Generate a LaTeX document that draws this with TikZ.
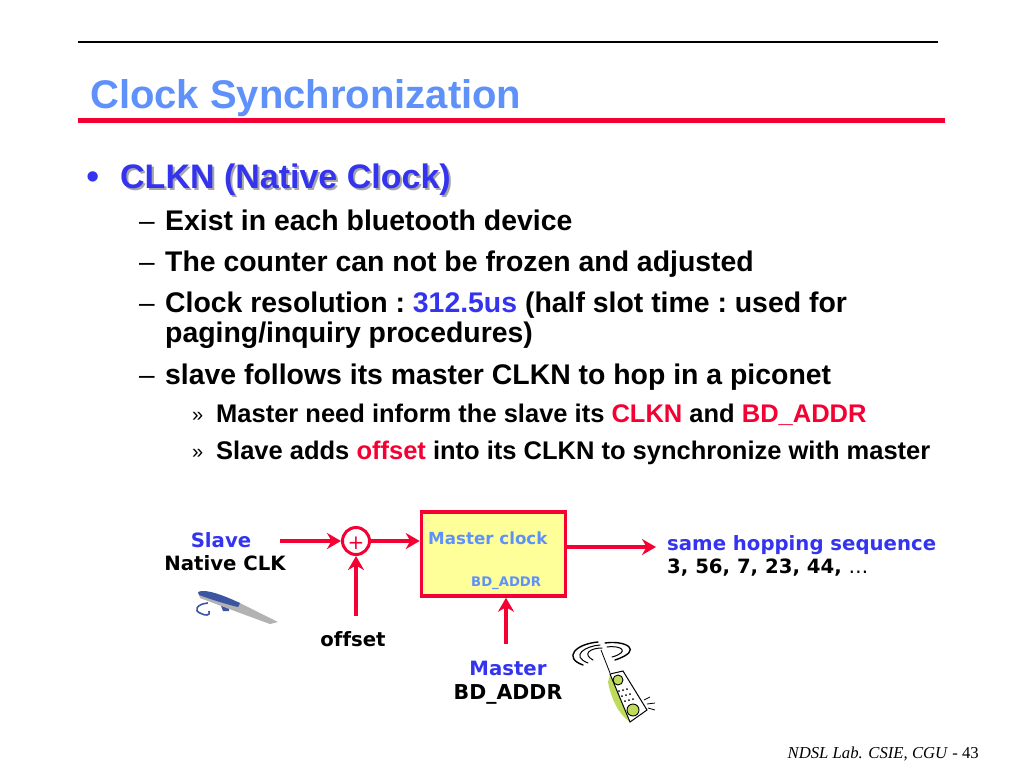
\documentclass[tikz,border=0pt]{standalone}
\usepackage{fontspec}
\setmainfont{Liberation Sans}
\newfontfamily\verdfont[Ligatures=NoCommon]{DejaVu Sans}
\newfontfamily\timesfont{Liberation Serif}
\usetikzlibrary{arrows.meta}
\definecolor{titleblue}{RGB}{95,145,250}
\definecolor{headblue}{RGB}{51,51,240}
\definecolor{linered}{RGB}{245,0,50}
\definecolor{boxyellow}{RGB}{255,255,153}
\definecolor{phonegreen}{RGB}{190,220,90}
\definecolor{setblue}{RGB}{60,85,160}
\newcommand{\hl}[1]{\textcolor{linered}{#1}}
\newcommand{\hb}[1]{\textcolor{headblue}{#1}}
\tikzset{
  txt/.style={anchor=base west, inner sep=0pt},
  lvlone/.style={txt, font=\fontsize{34}{38}\selectfont\bfseries\frenchspacing},
  lvltwo/.style={txt, font=\fontsize{28.4}{32}\selectfont\bfseries\frenchspacing},
  lvlthree/.style={txt, font=\fontsize{25.5}{29}\selectfont\bfseries\frenchspacing},
  dashmark/.style={txt, font=\fontsize{28}{32}\selectfont},
  guil/.style={txt, font=\fontsize{20}{24}\selectfont},
  lab/.style={anchor=base, inner sep=0pt, font=\fontsize{19.7}{24}\verdfont\bfseries},
  flow/.style={linered, line width=3.5pt, -{Stealth[length=14pt, width=16pt]}},
  wave/.style={line width=1pt, line cap=round},
}
\begin{document}
\begin{tikzpicture}[x=1pt, y=-1pt]
  \useasboundingbox (0,0) rectangle (1024,768);

  % header
  \draw [line width=1.5pt] (78,42) -- (938,42);
  \node [txt, titleblue, font=\fontsize{40}{44}\selectfont\bfseries] (title) at (90,108) {Clock Synchronization};
  \draw [linered, line width=5pt] (78,120) -- (945,120);

  % bullets
  \node [txt, headblue, font=\fontsize{38}{42}\selectfont] (dot) at (86,189) {•};
  \node [lvlone, black!35] (clknsh) at (122,190) {CLKN (Native Clock)};
  \node [lvlone, headblue] (clkn) at (120,188) {CLKN (Native Clock)};

  \node [dashmark] (d1) at (139,230) {–};
  \node [lvltwo] (exist) at (165,230) {Exist in each bluetooth device};
  \node [dashmark] (d2) at (139,271) {–};
  \node [lvltwo] (counter) at (165,271) {The counter can not be frozen and adjusted};
  \node [dashmark] (d3) at (139,312) {–};
  \node [lvltwo] (resol) at (165,312) {Clock resolution : \hb{312.5us} (half slot time : used for};
  \node [lvltwo] (paging) at (165,342) {paging/inquiry procedures)};
  \node [dashmark] (d4) at (139,384) {–};
  \node [lvltwo] (follows) at (165,384) {slave follows its master CLKN to hop in a piconet};

  \node [guil] (m1) at (192,421) {»};
  \node [lvlthree] (inform) at (216,422) {Master need inform the slave its \hl{CLKN} and \hl{BD\_ADDR}};
  \node [guil] (m2) at (192,458) {»};
  \node [lvlthree] (adds) at (216,459) {Slave adds \hl{offset} into its CLKN to synchronize with master};

  % block diagram
  \node [lab, headblue] (slave) at (221,547) {Slave};
  \node [lab] (native) at (225,570) {Native CLK};
  \coordinate (slaveout) at (280,541);
  \node [draw=linered, line width=3pt, circle, fill=white, minimum size=27pt, inner sep=0pt] (sum) at (356,541) {};
  \node [inner sep=0pt, font=\fontsize{20}{22}\verdfont, text=linered] (plus) at (356,543) {+};
  \node [draw=linered, line width=3.5pt, fill=boxyellow, minimum width=144pt, minimum height=84pt,
    inner sep=0pt] (master) at (493.5,554) {};
  \node [txt, titleblue, font=\fontsize{16.7}{20}\verdfont\bfseries] (mclock) at (428,544) {Master clock};
  \node [txt, titleblue, font=\fontsize{13.2}{15}\verdfont\bfseries] (mbd) at (471,586) {BD\_ADDR};
  \coordinate (out) at (656,547);
  \coordinate (offtop) at (356,616);
  \coordinate (mastertail) at (506,644);

  \draw [flow] (slaveout) -- (sum.west);
  \draw [flow] (sum.east) -- (master.west |- sum.east);
  \draw [flow] (offtop) -- (sum.south);
  \draw [flow] (mastertail) -- (mastertail |- master.south);
  \draw [flow] (master.east |- out) -- (out);

  \node [lab] (offset) at (353,646) {offset};
  \node [lab, headblue] (mastername) at (508,675) {Master};
  \node [lab, font=\fontsize{20.5}{24}\verdfont\bfseries] (masterbd) at (508,699) {BD\_ADDR};
  \node [lab, anchor=base west, headblue] (same) at (667,550) {same hopping sequence};
  \node [lab, anchor=base west] (seq) at (667,573) {3, 56, 7, 23, 44, {\mdseries …}};

  % headset clip art
  \draw [setblue, line width=1.6pt] (208,603) .. controls (196,604) and (194,611) .. (200,613) .. controls (205,616) and (211,616) .. (209,611);
  \fill [setblue] (221,606) -- (229,607) -- (229,611) -- (223,611) -- cycle;
  \fill [gray!60] (198,592) -- (240,603) -- (278,622) -- (270,624) -- (240,613) -- (200,598) -- cycle;
  \fill [setblue] (198,592) .. controls (205,588) and (225,596) .. (240,603) -- (238,607) .. controls (225,604) and (210,599) .. (199,595) -- cycle;

  % phone clip art
  \draw [wave, line width=1.4pt] (598,642) .. controls (575,644) and (563,658) .. (583,665);
  \draw [wave] (600,645) .. controls (585,646) and (570,656) .. (588,663);
  \draw [wave] (602,648) .. controls (590,648) and (582,654) .. (593,660);
  \draw [wave, line width=1.4pt] (605,643) .. controls (625,640) and (645,650) .. (615,660);
  \draw [wave] (607,647) .. controls (622,645) and (630,652) .. (612,657);
  \draw [line width=.8pt] (601,650) -- (610,673);
  \fill [phonegreen] (610,675) -- (608,682) .. controls (611,698) and (618,714) .. (630,722) -- cycle;
  \draw [fill=white, line width=1pt] (610,674) -- (623,671) -- (647,710) -- (630,722) -- cycle;
  \draw [fill=phonegreen, line width=.9pt] (618,680) circle (5);
  \draw [fill=phonegreen, line width=.9pt] (633,710) circle (6);
  \foreach \bx/\by in {619/691, 623/690, 627/689, 622/696, 626/695, 630/694, 625/701, 629/700, 633/699}
    \fill (\bx,\by) circle (1);
  \draw [line width=.8pt] (644,700) -- (650,697);
  \draw [line width=.8pt] (647,704) -- (655,703);
  \draw [line width=.8pt] (648,708) -- (655,710);

  % footer
  \node [anchor=base east, inner sep=0pt, font=\fontsize{16.7}{18}\timesfont] (foot) at (979,758) {\textit{NDSL Lab. CSIE, CGU} - 43};
\end{tikzpicture}
\end{document}
